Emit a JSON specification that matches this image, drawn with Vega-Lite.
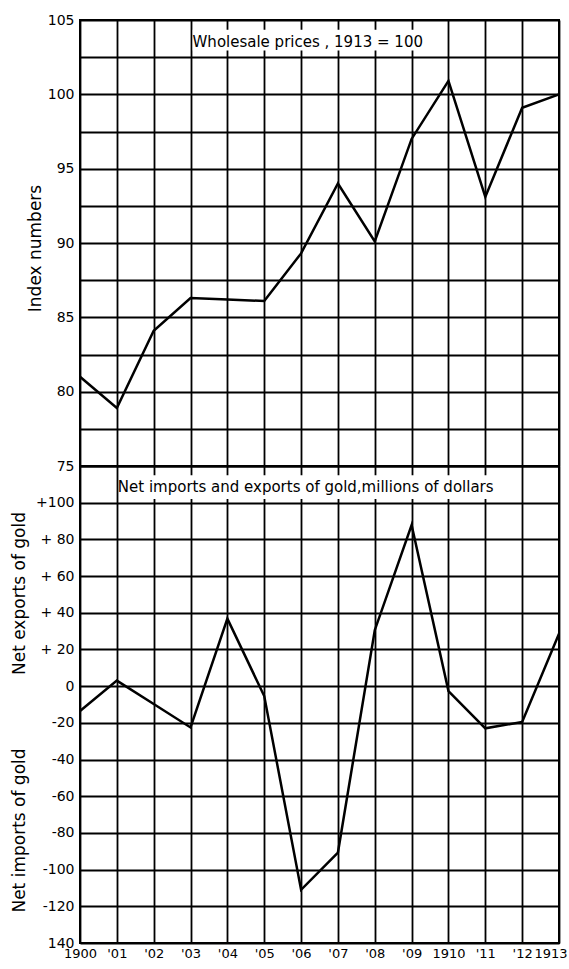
{
  "$schema": "https://vega.github.io/schema/vega-lite/v6.json",
  "padding": {"left": 9, "top": 12, "right": 0, "bottom": 5},
  "background": "white",
  "config": {
    "font": "DejaVu Sans",
    "view": {"stroke": "black", "strokeWidth": 2},
    "axis": {
      "gridColor": "black", "gridWidth": 1.8, "gridOpacity": 1,
      "domain": false, "ticks": false, "tickCount": 40,
      "labelColor": "black", "labelFontSize": 14, "labelPadding": 6,
      "titleColor": "black", "titleFontWeight": "normal", "titleFontSize": 16
    }
  },
  "datasets": {
    "prices": [
      {"year": 1900, "index": 81.0},
      {"year": 1901, "index": 78.9},
      {"year": 1902, "index": 84.1},
      {"year": 1903, "index": 86.3},
      {"year": 1904, "index": 86.2},
      {"year": 1905, "index": 86.1},
      {"year": 1906, "index": 89.3},
      {"year": 1907, "index": 94.0},
      {"year": 1908, "index": 90.1},
      {"year": 1909, "index": 97.0},
      {"year": 1910, "index": 100.9},
      {"year": 1911, "index": 93.1},
      {"year": 1912, "index": 99.1},
      {"year": 1913, "index": 100.0}
    ],
    "gold": [
      {"year": 1900, "net": -13.5},
      {"year": 1901, "net": 3.0},
      {"year": 1902, "net": -9.7},
      {"year": 1903, "net": -22.5},
      {"year": 1904, "net": 36.8},
      {"year": 1905, "net": -5.4},
      {"year": 1906, "net": -111.0},
      {"year": 1907, "net": -90.7},
      {"year": 1908, "net": 30.5},
      {"year": 1909, "net": 87.8},
      {"year": 1910, "net": -2.7},
      {"year": 1911, "net": -23.0},
      {"year": 1912, "net": -19.5},
      {"year": 1913, "net": 28.6}
    ]
  },
  "spacing": 0,
  "bounds": "flush",
  "vconcat": [
    {
      "width": 479,
      "height": 446,
      "layer": [
        {
          "data": {"name": "prices"},
          "mark": {"type": "line", "color": "black", "strokeWidth": 2.5},
          "encoding": {
            "x": {
              "field": "year", "type": "quantitative",
              "scale": {"domain": [1900, 1913], "nice": false, "zero": false},
              "axis": {"values": [1900,1901,1902,1903,1904,1905,1906,1907,1908,1909,1910,1911,1912,1913], "tickCount": 40, "labels": false, "title": null, "grid": true}
            },
            "y": {
              "field": "index", "type": "quantitative",
              "scale": {"domain": [75, 105], "nice": false, "zero": false},
              "axis": {
                "values": [75,77.5,80,82.5,85,87.5,90,92.5,95,97.5,100,102.5,105],
                "tickCount": 40,
                "labelExpr": "datum.value % 5 == 0 ? toString(datum.value) : ''",
                "title": "Index numbers",
                "titleFontSize": 17,
                "titleAngle": 270, "titleAlign": "center", "titleBaseline": "middle",
                "titleX": -45, "titleY": 228,
                "grid": true
              }
            }
          }
        },
        {
          "data": {"values": [{}]},
          "mark": {"type": "rect", "color": "white"},
          "encoding": {
            "x": {"datum": 1903.06, "type": "quantitative"},
            "x2": {"datum": 1909.1},
            "y": {"datum": 104.35, "type": "quantitative"},
            "y2": {"datum": 102.95}
          }
        },
        {
          "data": {"values": [{"label": "Wholesale prices , 1913 = 100"}]},
          "mark": {"type": "text", "align": "left", "baseline": "middle", "fontSize": 15, "dx": 2, "color": "black"},
          "encoding": {
            "x": {"datum": 1903, "type": "quantitative"},
            "y": {"datum": 103.55, "type": "quantitative"},
            "text": {"field": "label"}
          }
        }
      ]
    },
    {
      "width": 479,
      "height": 477,
      "resolve": {"axis": {"y": "independent"}},
      "layer": [
        {
          "layer": [
            {
              "data": {"name": "gold"},
              "mark": {"type": "line", "color": "black", "strokeWidth": 2.5},
              "encoding": {
                "x": {
                  "field": "year", "type": "quantitative",
                  "scale": {"domain": [1900, 1913], "nice": false, "zero": false},
                  "axis": {
                    "values": [1900,1901,1902,1903,1904,1905,1906,1907,1908,1909,1910,1911,1912,1913],
                    "tickCount": 40,
                    "labelExpr": "(datum.value == 1900 || datum.value == 1910 || datum.value == 1913) ? toString(datum.value) : \"'\" + slice(toString(datum.value), 2)",
                    "labelAlign": {"condition": {"test": "datum.value == 1913", "value": "right"}, "value": "center"},
                    "labelOffset": {"condition": {"test": "datum.value == 1913", "value": 8}, "value": 0},
                    "labelFlush": false, "labelOverlap": false, "labelSeparation": 0, "labelPadding": 4,
                    "labelFontSize": 13,
                    "title": null, "grid": true
                  }
                },
                "y": {
                  "field": "net", "type": "quantitative",
                  "scale": {"domain": [-140, 120], "nice": false, "zero": false},
                  "axis": {
                    "values": [-140,-120,-100,-80,-60,-40,-20,0,20,40,60,80,100,120],
                    "tickCount": 40,
                    "labelOverlap": false,
                    "labelExpr": "datum.value == 120 ? '' : datum.value == 100 ? '+100' : datum.value > 0 ? '+ ' + toString(datum.value) : datum.value == -140 ? '140' : toString(datum.value)",
                    "title": "Net exports of gold",
                    "titleFontSize": 17,
                    "titleAngle": 270, "titleAlign": "center", "titleBaseline": "middle",
                    "titleX": -61, "titleY": 127,
                    "grid": true
                  }
                }
              }
            },
            {
              "data": {"values": [{}]},
              "mark": {"type": "rect", "color": "white"},
              "encoding": {
                "x": {"datum": 1901.06, "type": "quantitative"},
                "x2": {"datum": 1911.45},
                "y": {"datum": 115, "type": "quantitative"},
                "y2": {"datum": 102}
              }
            },
            {
              "data": {"values": [{"label": "Net imports and exports of gold,millions of dollars"}]},
              "mark": {"type": "text", "align": "left", "baseline": "middle", "fontSize": 15, "dx": 1, "color": "black"},
              "encoding": {
                "x": {"datum": 1901, "type": "quantitative"},
                "y": {"datum": 108.6, "type": "quantitative"},
                "text": {"field": "label"}
              }
            }
          ]
        },
        {
          "data": {"name": "gold"},
          "mark": {"type": "line", "opacity": 0},
          "encoding": {
            "x": {"field": "year", "type": "quantitative"},
            "y": {
              "field": "net", "type": "quantitative",
              "axis": {
                "orient": "left",
                "labels": false, "grid": false, "ticks": false, "domain": false,
                "title": "Net imports of gold",
                "titleFontSize": 17,
                "titleAngle": 270, "titleAlign": "center", "titleBaseline": "middle",
                "titleX": -61, "titleY": 364
              }
            }
          }
        }
      ]
    }
  ]
}
